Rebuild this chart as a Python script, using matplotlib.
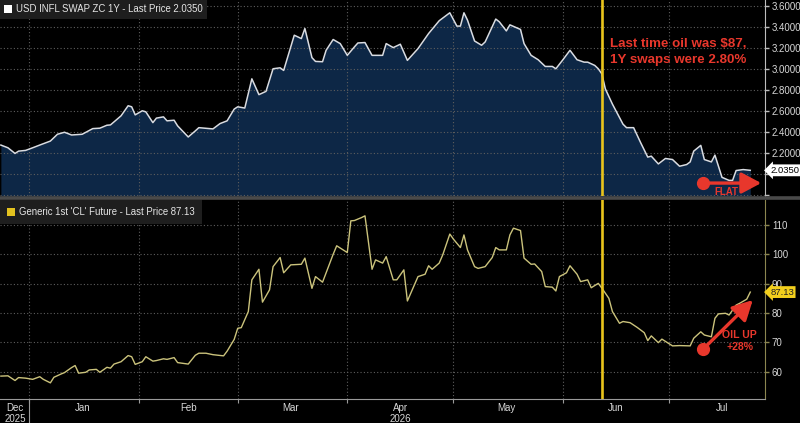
import matplotlib
matplotlib.use("Agg")
import matplotlib.pyplot as plt
import matplotlib.dates as mdates
import matplotlib.transforms as mtransforms
from matplotlib.patches import Patch
from matplotlib.lines import Line2D
from matplotlib.ticker import FixedLocator, FixedFormatter
import pandas as pd

plt.rcParams['font.family'] = ['Liberation Sans', 'DejaVu Sans']

# ---------------- data ----------------
BASE_DATE = "2026-01-01"   # day offsets below are counted from this date

swap_title = "USD INFL SWAP ZC 1Y - Last Price"
swap_days = [-8, -6, -4, -3, -1, 1, 3, 6, 8, 10, 12, 15, 18, 20, 22, 23, 26, 28, 29, 30,
             32, 33, 35, 36, 38, 39, 41, 42, 45, 47, 48, 52, 54, 56, 58, 59, 61, 63, 65, 67,
             69, 71, 72, 75, 77, 78, 80, 81, 83, 84, 86, 88, 90, 92, 93, 95, 97, 100, 101, 103,
             105, 107, 110, 113, 116, 119, 121, 122, 123, 124, 126, 128, 129, 132, 133, 135, 136, 139, 140, 142,
             144, 146, 148, 149, 151, 153, 155, 157, 158, 160, 161, 162, 163, 165, 168, 169, 171, 173, 175, 176,
             178, 180, 182, 184, 186, 187, 188, 190, 191, 193, 194, 196, 198, 199, 200, 202, 204]
swap_vals = [2.276, 2.250, 2.196, 2.218, 2.225, 2.250, 2.276, 2.314, 2.379, 2.398, 2.372, 2.379, 2.433, 2.437, 2.465, 2.468, 2.555, 2.651, 2.641, 2.564,
             2.603, 2.593, 2.490, 2.533, 2.545, 2.507, 2.513, 2.459, 2.353, 2.411, 2.442, 2.430, 2.481, 2.507, 2.619, 2.641, 2.629, 2.908, 2.757, 2.788,
             3.004, 3.013, 2.988, 3.324, 3.292, 3.388, 3.110, 3.074, 3.071, 3.180, 3.283, 3.244, 3.132, 3.212, 3.250, 3.254, 3.132, 3.132, 3.244, 3.206,
             3.238, 3.084, 3.196, 3.340, 3.462, 3.538, 3.411, 3.411, 3.538, 3.468, 3.269, 3.228, 3.260, 3.478, 3.452, 3.365, 3.423, 3.379, 3.244, 3.132,
             3.090, 3.026, 3.026, 3.004, 3.090, 3.180, 3.090, 3.067, 3.067, 3.036, 3.004, 2.956, 2.812, 2.667, 2.475, 2.442, 2.442, 2.298, 2.161, 2.170,
             2.096, 2.148, 2.138, 2.074, 2.090, 2.115, 2.218, 2.273, 2.138, 2.115, 2.180, 1.968, 1.939, 1.939, 2.033, 2.042, 2.035]

oil_title = "Generic 1st 'CL' Future - Last Price"
oil_days = [-8, -6, -4, -3, -1, 1, 3, 4, 6, 7, 9, 10, 12, 13, 14, 16, 17, 19, 20, 22,
            23, 24, 26, 28, 29, 30, 32, 33, 35, 36, 38, 39, 41, 42, 45, 47, 48, 50, 52, 55,
            56, 58, 59, 60, 62, 63, 65, 66, 68, 69, 71, 72, 74, 77, 78, 80, 81, 83, 86, 87,
            90, 91, 92, 94, 95, 97, 98, 100, 101, 103, 104, 106, 107, 109, 110, 112, 113, 114, 116, 117,
            119, 120, 122, 123, 124, 126, 127, 129, 131, 132, 133, 135, 136, 137, 139, 140, 142, 143, 145, 146,
            148, 149, 150, 152, 153, 155, 156, 158, 159, 161, 162, 164, 165, 167, 168, 170, 172, 174, 175, 176,
            178, 179, 182, 184, 187, 188, 190, 191, 193, 194, 195, 197, 198, 200, 201, 203, 204]
oil_vals = [58.5, 58.6, 57.0, 58.0, 57.8, 57.4, 58.3, 57.4, 56.2, 58.1, 59.2, 59.7, 61.4, 62.1, 59.5, 59.8, 60.6, 60.8, 59.8, 61.5,
            61.2, 62.6, 63.4, 65.5, 65.1, 62.5, 63.4, 65.1, 63.6, 63.8, 64.4, 64.2, 64.8, 63.1, 62.6, 65.6, 66.3, 66.3, 65.8, 65.4,
            67.0, 71.0, 74.8, 75.0, 80.5, 91.3, 94.9, 83.7, 87.9, 95.8, 98.9, 93.7, 96.4, 96.6, 98.7, 88.4, 92.4, 90.5, 100.0, 102.9,
            100.6, 111.4, 111.5, 112.5, 113.1, 94.9, 98.1, 97.0, 99.2, 91.3, 91.3, 94.7, 84.1, 89.6, 92.4, 93.2, 96.1, 94.9, 97.0, 99.8,
            106.9, 105.2, 102.3, 106.6, 101.5, 95.8, 95.2, 95.8, 98.9, 102.3, 101.5, 101.5, 106.6, 108.9, 108.1, 98.7, 96.6, 96.7, 94.1, 89.0,
            88.8, 87.5, 92.4, 93.7, 96.1, 93.2, 90.7, 91.3, 88.6, 90.1, 88.5, 85.0, 80.5, 76.5, 77.1, 76.7, 75.1, 73.3, 70.6, 72.2,
            69.9, 71.1, 68.8, 68.9, 68.8, 71.4, 73.6, 72.5, 71.9, 78.2, 79.7, 79.9, 79.3, 82.7, 83.3, 84.7, 87.13]

marker_date = "2026-06-12"
swap_ticks = [1.8, 2.0, 2.2, 2.4, 2.6, 2.8, 3.0, 3.2, 3.4, 3.6]
swap_tick_labels = ["", "", "2.2000", "2.4000", "2.6000", "2.8000", "3.0000", "3.2000", "3.4000", "3.6000"]
oil_ticks = [60, 70, 80, 90, 100, 110]
oil_tick_labels = ["60", "70", "80", "90", "100", "110"]
month_starts = ["2026-01-01", "2026-02-01", "2026-03-01", "2026-04-01",
                "2026-05-01", "2026-06-01", "2026-07-01"]
month_label_dates = ["2025-12-28", "2026-01-16", "2026-02-15", "2026-03-16",
                     "2026-04-16", "2026-05-16", "2026-06-16", "2026-07-16"]
month_labels = ["Dec\n2025", "Jan", "Feb", "Mar", "Apr\n2026", "May", "Jun", "Jul"]
note_text = "Last time oil was $87,\n1Y swaps were 2.80%"
flat_text = "FLAT"
oilup_text = "OIL UP\n+28%"

# ---------------- styling ----------------
BG = "black"
NAVY = "#0d2746"
SWAP_LINE = "#d9dce2"
OIL_LINE = "#cbc37c"
YELLOW = "#e9c41c"
RED = "#e8372c"
GRID = "#5e5e5e"
TXT = "#d8d8d8"

base = pd.Timestamp(BASE_DATE)
swap_x = base + pd.to_timedelta(swap_days, unit="D")
oil_x = base + pd.to_timedelta(oil_days, unit="D")
xmin = pd.Timestamp("2025-12-23 18:00")
xmax = pd.Timestamp("2026-07-28 04:00")

fig = plt.figure(figsize=(8, 4.23), dpi=100, facecolor=BG)
ax1 = fig.add_axes([0, 1 - 196 / 423, 765 / 800, 196 / 423], facecolor=BG)
ax2 = fig.add_axes([0, 1 - 399 / 423, 765 / 800, 199 / 423], facecolor=BG)

major_x = mdates.date2num(pd.to_datetime(month_starts))
minor_x = mdates.date2num(pd.to_datetime(month_label_dates))

for ax in (ax1, ax2):
    ax.set_xlim(xmin, xmax)
    ax.xaxis.set_major_locator(FixedLocator(major_x))
    ax.xaxis.set_minor_locator(FixedLocator(minor_x))
    ax.grid(True, which="major", color=GRID, linestyle=(0, (1, 2)), linewidth=0.8)
    ax.yaxis.tick_right()
    for s in ("left", "top"):
        ax.spines[s].set_visible(False)
    ax.tick_params(axis="y", which="both", direction="out", length=3, width=1,
                   labelsize=7, labelcolor=TXT, pad=2)
    ax.axvline(pd.Timestamp(marker_date), color=YELLOW, lw=1.9, zorder=4)

# ---- top panel ----
ax1.set_ylim(1.79, 3.66)
ax1.fill_between(swap_x, swap_vals, ax1.get_ylim()[0], color=NAVY, lw=0, zorder=1)
ax1.plot(swap_x, swap_vals, color=SWAP_LINE, lw=1.1, zorder=3)
ax1.set_yticks(swap_ticks)
ax1.set_yticklabels(swap_tick_labels)
ax1.tick_params(axis="y", colors="#bdbdbd", labelcolor=TXT)
ax1.tick_params(axis="x", which="both", length=0, labelbottom=False)
ax1.spines["bottom"].set_visible(False)
ax1.spines["right"].set_color("#bdbdbd")

# ---- bottom panel ----
ax2.set_ylim(50.7, 118.5)
ax2.plot(oil_x, oil_vals, color=OIL_LINE, lw=1.0, zorder=3)
ax2.set_yticks(oil_ticks)
ax2.set_yticklabels(oil_tick_labels)
ax2.tick_params(axis="y", colors="#8c8650", labelcolor=TXT)
ax2.spines["right"].set_color("#8c8650")
ax2.spines["bottom"].set_color("#9a9a9a")
ax2.xaxis.set_major_formatter(FixedFormatter([""] * len(major_x)))
ax2.xaxis.set_minor_formatter(FixedFormatter(month_labels))
ax2.tick_params(axis="x", which="major", length=3, color="#9a9a9a", labelbottom=False)
ax2.tick_params(axis="x", which="minor", length=0, labelsize=7, labelcolor=TXT, pad=3)
for lab in ax2.xaxis.get_minorticklabels():
    lab.set_linespacing(1.15)
# year separator below the axis at the first month start
sep_tr = mtransforms.blended_transform_factory(ax2.transData, ax2.transAxes)
ax2.plot([major_x[0], major_x[0]], [0, -0.13], transform=sep_tr, clip_on=False,
         color="#9a9a9a", lw=0.8)

# separator between panels
fig.add_artist(Line2D([0, 1], [1 - 198 / 423] * 2, transform=fig.transFigure,
                      color="#4a4a4a", lw=2.6))

# ---- legends ----
for ax, title, vals, sq, fmt, pad in ((ax1, swap_title, swap_vals, "white", "{:.4f}", 0.45),
                                      (ax2, oil_title, oil_vals, "#e3c21f", "{:.2f}", 0.75)):
    leg = ax.legend([Patch(facecolor=sq, edgecolor="none")],
                    [f"{title} {fmt.format(vals[-1])}"],
                    loc="upper left", bbox_to_anchor=(0, 1), borderaxespad=0,
                    frameon=True, fancybox=False, facecolor="#1e1e1e", edgecolor="none",
                    framealpha=1, prop={"size": 6.9}, handlelength=0.8, handleheight=0.8,
                    handletextpad=0.45, borderpad=pad, labelcolor="#e6e6e6")
    leg.set_zorder(10)

# ---- last value tags ----
tr1 = mtransforms.blended_transform_factory(ax1.transAxes, ax1.transData)
ax1.text(1.007, swap_vals[-1], f"{swap_vals[-1]:.4f}", transform=tr1, ha="left", va="center",
         fontsize=6.8, color="black", clip_on=False, zorder=10,
         bbox=dict(boxstyle="larrow,pad=0.15", fc="white", ec="none"))
tr2 = mtransforms.blended_transform_factory(ax2.transAxes, ax2.transData)
ax2.text(1.007, oil_vals[-1], f"{oil_vals[-1]:.2f}", transform=tr2, ha="left", va="center",
         fontsize=6.8, color="#222222", clip_on=False, zorder=10,
         bbox=dict(boxstyle="larrow,pad=0.15", fc="#f2cf1d", ec="none"))

# ---- annotations ----
ax1.text(0.797, 0.735, note_text, transform=ax1.transAxes, color=RED, fontsize=9.6,
         fontweight="bold", ha="left", va="center", linespacing=1.45, zorder=6)

arrow_kw = dict(arrowstyle="-|>,head_length=0.6,head_width=0.32", color=RED, lw=2.4,
                mutation_scale=20, shrinkA=0, shrinkB=0)
ax1.annotate("", xy=(0.995, 0.066), xytext=(0.919, 0.066), xycoords="axes fraction",
             textcoords="axes fraction", arrowprops=arrow_kw, zorder=6)
ax1.plot([0.919], [0.066], "o", ms=8.5, color=RED, transform=ax1.transAxes,
         clip_on=False, zorder=7)
ax1.text(0.950, 0.022, flat_text, transform=ax1.transAxes, color=RED, fontsize=7,
         fontweight="bold", ha="center", va="center", clip_on=True, zorder=6)

ax2.annotate("", xy=(0.984, 0.497), xytext=(0.919, 0.250), xycoords="axes fraction",
             textcoords="axes fraction", arrowprops=arrow_kw, zorder=6)
ax2.plot([0.919], [0.250], "o", ms=8.5, color=RED, transform=ax2.transAxes,
         clip_on=False, zorder=7)
ax2.text(0.967, 0.291, oilup_text, transform=ax2.transAxes, color=RED, fontsize=7.6,
         fontweight="bold", ha="center", va="center", linespacing=1.3, zorder=6)

fig.savefig("out.png", dpi=100, facecolor=BG)
